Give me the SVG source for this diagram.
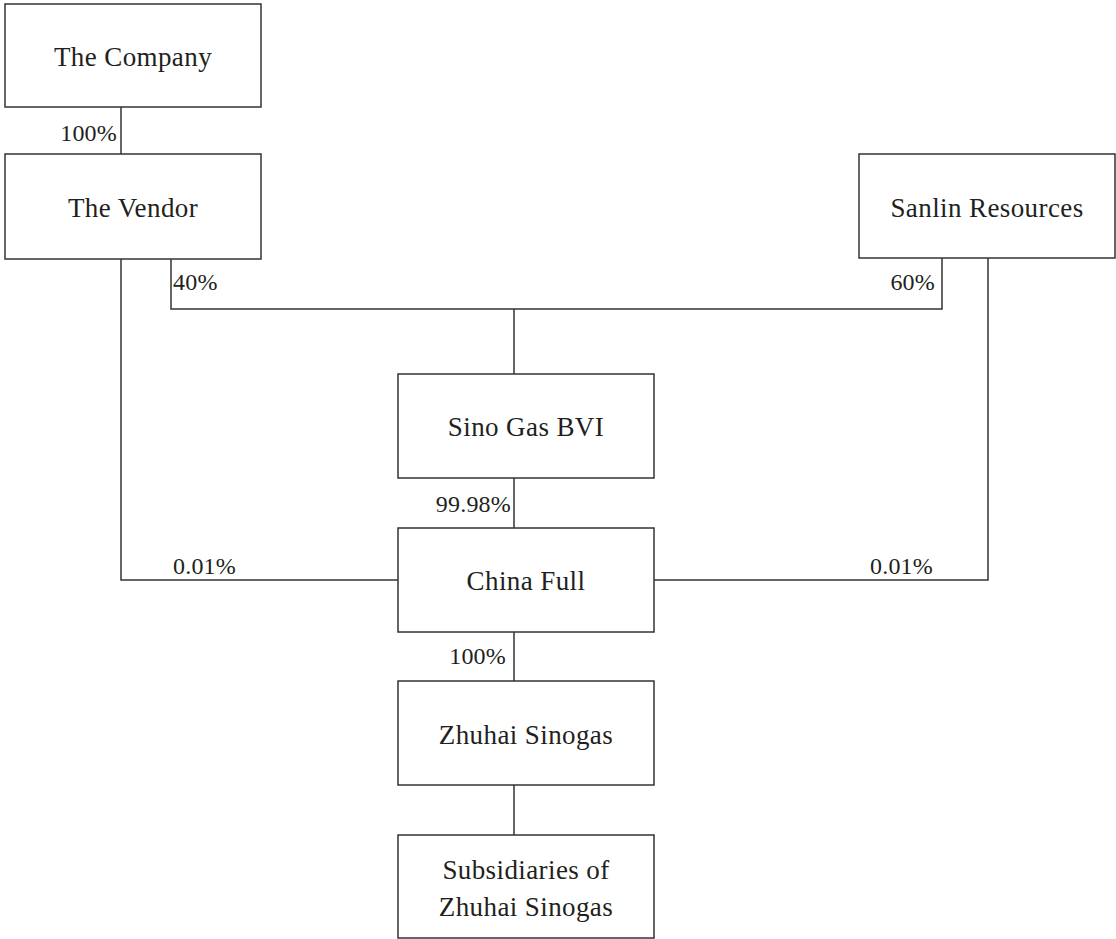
<svg xmlns="http://www.w3.org/2000/svg" width="1116" height="939" viewBox="0 0 1116 939">
<style>
.box{fill:#fff;stroke:#333;stroke-width:1.5}
.ln{fill:none;stroke:#333;stroke-width:1.5}
.t{font-family:"Liberation Serif",serif;font-size:27px;letter-spacing:0.4px;fill:#231f20;text-anchor:middle}
.p{font-family:"Liberation Serif",serif;font-size:24px;letter-spacing:0.2px;fill:#231f20}
.r{text-anchor:end}
</style>
<rect width="1116" height="939" fill="#fff"/>
<g id="connectors">
<path class="ln" d="M121 107V154"/>
<path class="ln" d="M121 259V580H398"/>
<path class="ln" d="M171 259V309H942V258"/>
<path class="ln" d="M514 309V374"/>
<path class="ln" d="M988 258V580H654"/>
<path class="ln" d="M514 478V528"/>
<path class="ln" d="M514 632V681"/>
<path class="ln" d="M514 785V835"/>
<text class="p r" x="117" y="141">100%</text>
<text class="p" x="173" y="290">40%</text>
<text class="p r" x="935" y="290">60%</text>
<text class="p r" x="511" y="512">99.98%</text>
<text class="p" x="173" y="574">0.01%</text>
<text class="p r" x="933" y="574">0.01%</text>
<text class="p r" x="506" y="664">100%</text>
</g>
<g id="company"><rect class="box" x="5" y="4" width="256" height="103"/><text class="t" x="133" y="66">The Company</text></g>
<g id="vendor"><rect class="box" x="5" y="154" width="256" height="105"/><text class="t" x="133" y="217">The Vendor</text></g>
<g id="sanlin"><rect class="box" x="859" y="154" width="256" height="104"/><text class="t" x="987" y="217">Sanlin Resources</text></g>
<g id="sinogas-bvi"><rect class="box" x="398" y="374" width="256" height="104"/><text class="t" x="526" y="436">Sino Gas BVI</text></g>
<g id="china-full"><rect class="box" x="398" y="528" width="256" height="104"/><text class="t" x="526" y="590">China Full</text></g>
<g id="zhuhai"><rect class="box" x="398" y="681" width="256" height="104"/><text class="t" x="526" y="744">Zhuhai Sinogas</text></g>
<g id="subsidiaries"><rect class="box" x="398" y="835" width="256" height="103"/><text class="t" x="526" y="879">Subsidiaries of</text><text class="t" x="526" y="916">Zhuhai Sinogas</text></g>
</svg>
